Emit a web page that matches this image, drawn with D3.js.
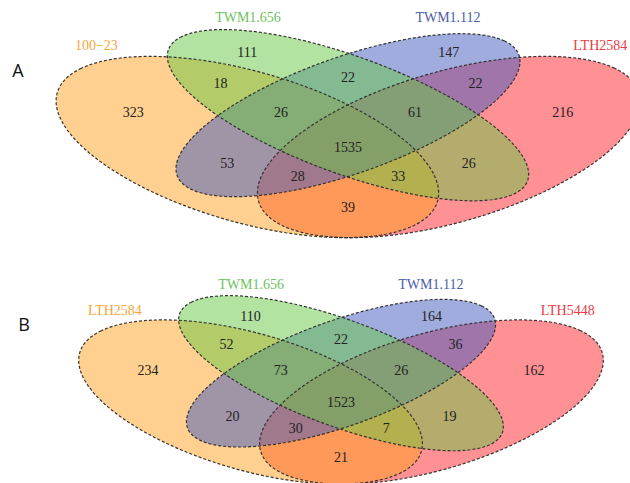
<!DOCTYPE html>
<html>
<head>
<meta charset="utf-8">
<script src="https://cdn.jsdelivr.net/npm/d3@7"></script>
<style>
  body { margin: 0; background: #fff; }
  svg { display: block; }
</style>
</head>
<body>
<div id="venn"></div>
<script>
// Set names and region counts
// region order: g, g&b, b, o&g, o&g&b, all, g&b&r, b&r, o, o&b, o&b&r, o&r, o&g&r, g&r, r
let setsA = ["100\u221223", "TWM1.656", "TWM1.112", "LTH2584"];
let countsA = [111, 22, 147, 18, 26, 1535, 61, 22, 323, 53, 28, 39, 33, 26, 216];

let setsB = ["LTH2584", "TWM1.656", "TWM1.112", "LTH5448"];
let countsB = [110, 22, 164, 52, 73, 1523, 26, 36, 234, 20, 30, 21, 7, 19, 162];

let setColors = ["#FFA11F", "#67C743", "#425ABE", "#FF2129"];
let labelColors = ["#F7A53C", "#6DC25B", "#4B5CA8", "#EC3A44"];

// four-ellipse layout in unit coords: x, y, a, b, rotation
let ellipses = [
  [0.35, 0.47, 0.35, 0.20, 135],
  [0.50, 0.57, 0.35, 0.15, 135],
  [0.50, 0.57, 0.33, 0.15, 45],
  [0.65, 0.47, 0.35, 0.20, 45]
];
let regionPos = [
  [0.350, 0.77], [0.500, 0.69], [0.650, 0.77], [0.310, 0.67], [0.400, 0.58],
  [0.500, 0.47], [0.600, 0.58], [0.690, 0.67], [0.180, 0.58], [0.320, 0.42],
  [0.425, 0.38], [0.500, 0.28], [0.575, 0.38], [0.680, 0.42], [0.820, 0.58]
];
let labelPos = [[0.125, 0.79], [0.351, 0.88], [0.649, 0.88], [0.876, 0.79]];
let drawOrder = [3, 0, 2, 1];

let width = 630, height = 483;

var svg = d3.select("#venn")
  .append("svg")
    .attr("width", width)
    .attr("height", height);

svg.append("rect")
  .attr("width", width).attr("height", height).attr("fill", "#fff");

function drawVenn(sets, counts, cx, cy, sx, sy, letter, lx, ly) {
  // y(0.47) == cy
  var x = d3.scaleLinear().domain([0, 1]).range([cx - 0.5 * sx, cx + 0.5 * sx]);
  var y = d3.scaleLinear().domain([0, 1]).range([cy + 0.47 * sy, cy - 0.53 * sy]);

  var line = d3.line()
    .x(p => x(p[0]))
    .y(p => y(p[1]))
    .curve(d3.curveLinearClosed);

  function outline(e) {
    let th = e[4] * Math.PI / 180;
    return d3.range(0, 360, 2).map(deg => {
      let t = deg * Math.PI / 180;
      let px = e[2] * Math.cos(t), py = e[3] * Math.sin(t);
      return [e[0] + px * Math.cos(th) - py * Math.sin(th),
              e[1] + px * Math.sin(th) + py * Math.cos(th)];
    });
  }

  let g = svg.append("g");

  // fills
  g.selectAll(".fill")
    .data(drawOrder)
    .enter()
    .append("path")
      .attr("class", "fill")
      .attr("d", i => line(outline(ellipses[i])))
      .attr("fill", i => setColors[i])
      .attr("fill-opacity", 0.5)
      .attr("stroke", "none");

  // dashed borders
  g.selectAll(".border")
    .data(drawOrder)
    .enter()
    .append("path")
      .attr("class", "border")
      .attr("d", i => line(outline(ellipses[i])))
      .attr("fill", "none")
      .attr("stroke", "#333")
      .attr("stroke-width", 1.2)
      .attr("stroke-dasharray", "3,2");

  // region counts
  g.selectAll(".count")
    .data(counts)
    .enter()
    .append("text")
      .attr("class", "count")
      .attr("x", (d, i) => x(regionPos[i][0]))
      .attr("y", (d, i) => y(regionPos[i][1]))
      .attr("dy", "0.35em")
      .attr("text-anchor", "middle")
      .style("font-family", "'Liberation Serif', 'Times New Roman', serif")
      .style("font-size", "14px")
      .style("fill", "#222")
      .text(d => d);

  // set names
  g.selectAll(".setname")
    .data(sets)
    .enter()
    .append("text")
      .attr("class", "setname")
      .attr("x", (d, i) => x(labelPos[i][0]))
      .attr("y", (d, i) => y(labelPos[i][1]))
      .attr("dy", "0.35em")
      .attr("text-anchor", "middle")
      .style("font-family", "'Liberation Serif', 'Times New Roman', serif")
      .style("font-size", "14px")
      .style("fill", (d, i) => labelColors[i])
      .text(d => d);

  // panel letter
  g.append("text")
    .attr("x", lx)
    .attr("y", ly)
    .attr("dy", "0.35em")
    .attr("text-anchor", "middle")
    .style("font-family", "'Open Sans', 'DejaVu Sans', sans-serif")
    .style("font-size", "18px")
    .style("fill", "#111")
    .text(letter);
}

drawVenn(setsA, countsA, 348, 147, 671, 318, "A", 18, 71);
drawVenn(setsB, countsB, 341, 402, 603, 288, "B", 24, 325);
</script>
</body>
</html>
